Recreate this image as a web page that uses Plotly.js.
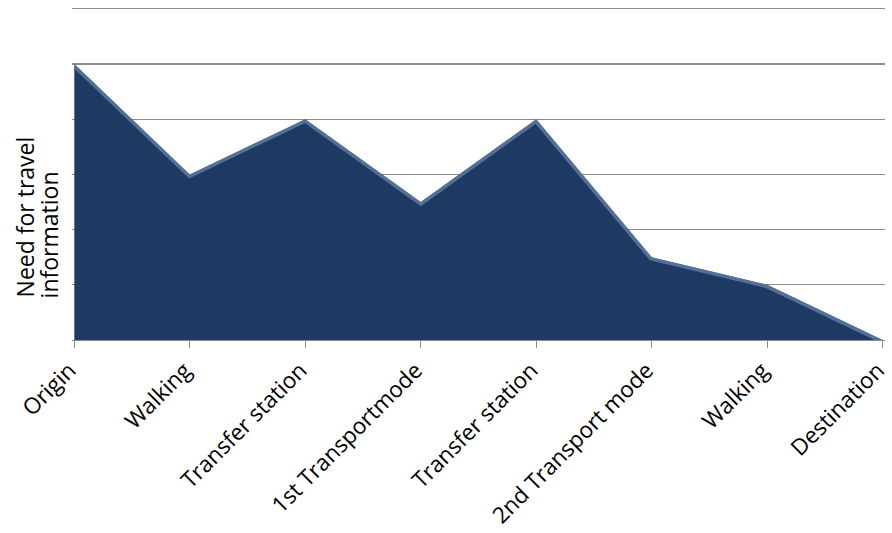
<!DOCTYPE html>
<html>
<head>
<meta charset="utf-8">
<script src="https://cdn.plot.ly/plotly-3.0.1.min.js"></script>
<style>
  html, body { margin: 0; padding: 0; background: #fff; }
  #chart { width: 892px; height: 533px; }
</style>
</head>
<body>
<div id="chart"></div>
<script>
// Stages of a trip and the need for travel information at each stage
const stages = ["Origin", "Walking", "Transfer station", "1st Transportmode",
                "Transfer station", "2nd Transport mode", "Walking", "Destination"];
const stageIndex = [0, 1, 2, 3, 4, 5, 6, 7];
const infoNeed = [5, 3, 4, 2.5, 4, 1.5, 1, 0];
const gridLevels = [0, 1, 2, 3, 4, 5, 6];
const yTitleLines = ["Need for travel", "information"];

const fillColor = "#1F3A62";
const gridColor = "#8C8C8C";

const traces = [{
  type: "scatter",
  mode: "lines",
  x: stageIndex,
  y: infoNeed,
  fill: "tozeroy",
  fillcolor: fillColor,
  line: { color: "rgba(105,135,175,0.7)", width: 7 },
  hoverinfo: "skip",
  showlegend: false
}];

// Axis title drawn as two rotated lines with tight line spacing
const titleX = [-0.0578, -0.0283];
const titleAnnotations = yTitleLines.map(function (line, i) {
  return {
    text: line,
    xref: "paper", yref: "paper",
    x: titleX[i], y: 0.12,
    xanchor: "center", yanchor: "bottom",
    textangle: -90,
    showarrow: false,
    font: { size: 23, color: "#000" }
  };
});

const layout = {
  width: 892,
  height: 533,
  margin: { l: 72, r: 7, t: 6, b: 193 },
  paper_bgcolor: "#ffffff",
  plot_bgcolor: "#ffffff",
  font: { family: "Open Sans, Liberation Sans, sans-serif", size: 23, color: "#000" },
  xaxis: {
    range: [-0.02, 7.02],
    tickmode: "array",
    tickvals: stageIndex,
    ticktext: stages,
    tickangle: -45,
    ticks: "outside",
    ticklen: 7,
    tickwidth: 1.3,
    tickcolor: gridColor,
    showline: true,
    linecolor: gridColor,
    linewidth: 1.3,
    showgrid: false,
    zeroline: false,
    ticklabeloverflow: "allow",
    ticklabelshift: -5,
    tickfont: { size: 22.5 }
  },
  yaxis: {
    range: [0, 6.05],
    tickmode: "array",
    tickvals: gridLevels,
    showticklabels: false,
    showgrid: true,
    gridcolor: gridColor,
    gridwidth: 1.3,
    zeroline: false,
    showline: false,
    ticks: ""
  },
  annotations: titleAnnotations
};

Plotly.newPlot("chart", traces, layout, { displayModeBar: false, staticPlot: true }).then(function () {
  // Keep the lighter edge band inside the filled area so it reads as a bevel
  const svg = document.querySelector("#chart .main-svg");
  const fillPath = document.querySelector("#chart .js-fill");
  const linePath = document.querySelector("#chart .js-line");
  if (!svg || !fillPath || !linePath) return;
  const ns = "http://www.w3.org/2000/svg";
  let defs = svg.querySelector("defs");
  if (!defs) { defs = document.createElementNS(ns, "defs"); svg.insertBefore(defs, svg.firstChild); }
  const clip = document.createElementNS(ns, "clipPath");
  clip.setAttribute("id", "areaBevelClip");
  const p = document.createElementNS(ns, "path");
  p.setAttribute("d", fillPath.getAttribute("d"));
  clip.appendChild(p);
  defs.appendChild(clip);
  linePath.setAttribute("clip-path", "url(#areaBevelClip)");
});
</script>
</body>
</html>
